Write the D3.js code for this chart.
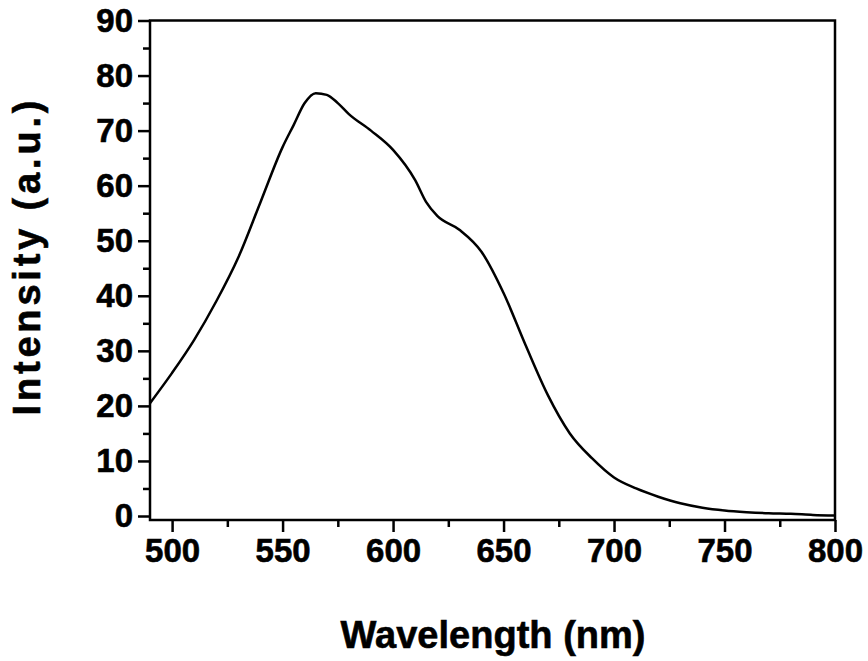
<!DOCTYPE html>
<html><head><meta charset="utf-8">
<script src="https://cdn.jsdelivr.net/npm/d3@7"></script>
<style>body{margin:0;background:#fff}svg{display:block}</style>
</head><body><svg id="c" width="868" height="661"></svg>
<script>
// emission spectrum
const wavelength = [490,500,510,520,530,540,550,555,560,565,570,575,580,590,600,610,615,620,630,640,650,660,670,680,690,700,710,720,730,740,750,760,770,780,790,800];
const intensity  = [20.5,26,32,39,47,57,67,71,75,76.8,76.5,75,73,70,66.5,61,57,54.5,52,48,40.5,31,22,15,10.5,7,5,3.5,2.3,1.5,1,0.7,0.5,0.4,0.2,0.1];
const xTicks = [500,550,600,650,700,750,800];
const yTicks = [0,10,20,30,40,50,60,70,80,90];

const svg = d3.select("#c");
const x = d3.scaleLinear().domain([490, 800]).range([150, 835]);
const y = d3.scaleLinear().domain([0, 90]).range([516, 20.5]);
const font = "'Liberation Sans', Arial, sans-serif";

// frame
svg.append("rect").attr("x", 150).attr("y", 20.5).attr("width", 685).attr("height", 499.5)
  .attr("fill", "none").attr("stroke", "#000").attr("stroke-width", 2.5);

svg.append("g").attr("transform", "translate(0,520)")
  .call(d3.axisBottom(x).tickValues(xTicks).tickSize(12).tickSizeOuter(0).tickPadding(7));
svg.append("g").attr("transform", "translate(0,520)")
  .call(d3.axisBottom(x).tickValues(d3.range(525, 800, 50)).tickSize(7).tickFormat("").tickSizeOuter(0));
svg.append("g").attr("transform", "translate(150,0)")
  .call(d3.axisLeft(y).tickValues(yTicks).tickSize(12).tickSizeOuter(0).tickPadding(5));
svg.append("g").attr("transform", "translate(150,0)")
  .call(d3.axisLeft(y).tickValues(d3.range(5, 90, 10)).tickSize(7).tickFormat("").tickSizeOuter(0));

svg.selectAll(".domain").remove();
svg.selectAll(".tick line").attr("stroke", "#000").attr("stroke-width", 2.5);
svg.selectAll(".tick text").attr("font-family", font).attr("font-weight", "bold")
  .attr("font-size", 33).attr("fill", "#000").style("stroke", "#000").style("stroke-width", 0.6);

svg.append("path").datum(wavelength.map((w, i) => [w, intensity[i]]))
  .attr("fill", "none").attr("stroke", "#000").attr("stroke-width", 2.5)
  .attr("d", d3.line().x(d => x(d[0])).y(d => y(d[1])).curve(d3.curveMonotoneX));

svg.append("text").attr("x", 493).attr("y", 648).attr("text-anchor", "middle")
  .attr("font-family", font).attr("font-weight", "bold").attr("font-size", 38)
  .attr("textLength", 305).style("stroke", "#000").style("stroke-width", 0.6)
  .text("Wavelength (nm)");
svg.append("text").attr("transform", "translate(40,258) rotate(-90)").attr("text-anchor", "middle")
  .attr("font-family", font).attr("font-weight", "bold").attr("font-size", 38)
  .attr("textLength", 315).style("stroke", "#000").style("stroke-width", 0.6)
  .text("Intensity (a.u.)");
</script></body></html>
